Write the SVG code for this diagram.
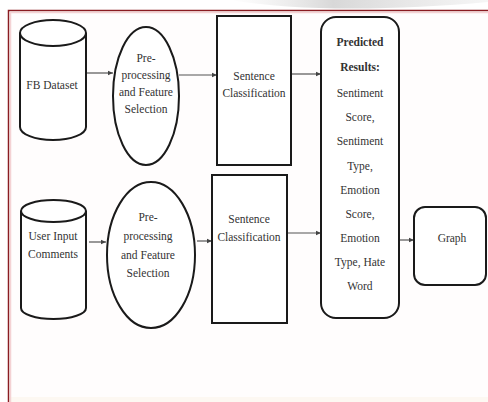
<svg xmlns="http://www.w3.org/2000/svg" width="488" height="402" viewBox="0 0 488 402">
<style>
.shape{fill:#fff;stroke:#1a1a1a;stroke-width:2}
.t{font-family:"Liberation Serif","Times New Roman",serif;font-size:11.5px;fill:#333;text-anchor:middle}
.b{font-weight:bold}
.c{stroke:#555;stroke-width:1.2;fill:none;marker-end:url(#ah)}
</style>
<defs>
<marker id="ah" markerWidth="6" markerHeight="6" refX="5" refY="3" orient="auto" markerUnits="userSpaceOnUse">
<path d="M0,0.8 L5,3 L0,5.2 Z" fill="#444"/>
</marker>
<linearGradient id="sw" x1="0" y1="0" x2="1" y2="0">
<stop offset="0" stop-color="#e6e6e6" stop-opacity="0"/>
<stop offset="0.4" stop-color="#d8d8d8"/>
<stop offset="1" stop-color="#e0e0e0" stop-opacity="0.3"/>
</linearGradient>
</defs>
<rect width="488" height="402" fill="#fff"/>
<path d="M230,0 C300,12 400,10 488,2 L488,0 Z" fill="url(#sw)"/>
<rect x="9" y="11" width="479" height="391" fill="#fffdfd"/>
<rect x="9" y="397" width="479" height="5" fill="#fdf8f2"/>
<path d="M488,10.5 H8.5 V402" fill="none" stroke="#8a1c22" stroke-width="1.5"/>
<path d="M488,12.5 H10.5 V402" fill="none" stroke="#f4d2d4" stroke-width="1.5"/>

<g id="connectors">
<line class="c" x1="87" y1="73" x2="113" y2="73"/>
<line class="c" x1="179" y1="75" x2="217" y2="75"/>
<line class="c" x1="292" y1="74" x2="321" y2="74"/>
<line class="c" x1="89" y1="242" x2="106" y2="242"/>
<line class="c" x1="197" y1="241" x2="212" y2="241"/>
<line class="c" x1="288" y1="233" x2="321" y2="233"/>
<line class="c" x1="400" y1="240" x2="414" y2="240"/>
</g>

<g id="fb-dataset">
<path class="shape" d="M20,33 L20,127 A33,13 0 0,0 86,127 L86,33"/>
<ellipse class="shape" cx="53" cy="33" rx="33" ry="13"/>
<text class="t" x="52" y="89">FB Dataset</text>
</g>

<g id="preprocess-1">
<ellipse class="shape" cx="146" cy="96" rx="33" ry="69"/>
<text class="t" x="146" y="62">Pre-</text>
<text class="t" x="146" y="79">processing</text>
<text class="t" x="146" y="96">and Feature</text>
<text class="t" x="146" y="113">Selection</text>
</g>

<g id="classify-1">
<rect class="shape" x="217" y="16" width="74" height="149"/>
<text class="t" x="254" y="80">Sentence</text>
<text class="t" x="254" y="97">Classification</text>
</g>

<g id="user-input">
<path class="shape" d="M21,211 L21,308 A32.5,11 0 0,0 86,308 L86,211"/>
<ellipse class="shape" cx="53.5" cy="211" rx="32.5" ry="11"/>
<text class="t" x="53" y="240">User Input</text>
<text class="t" x="53" y="258">Comments</text>
</g>

<g id="preprocess-2">
<ellipse class="shape" cx="151" cy="255" rx="44" ry="73"/>
<text class="t" x="148" y="221">Pre-</text>
<text class="t" x="148" y="240">processing</text>
<text class="t" x="148" y="259">and Feature</text>
<text class="t" x="148" y="277">Selection</text>
</g>

<g id="classify-2">
<rect class="shape" x="212" y="175" width="75" height="148"/>
<text class="t" x="249" y="223">Sentence</text>
<text class="t" x="249" y="241">Classification</text>
</g>

<g id="predicted">
<rect class="shape" x="321" y="17" width="78" height="301" rx="15" ry="15"/>
<text class="t b" x="360" y="46">Predicted</text>
<text class="t b" x="360" y="71">Results:</text>
<text class="t" x="360" y="97">Sentiment</text>
<text class="t" x="360" y="121">Score,</text>
<text class="t" x="360" y="145">Sentiment</text>
<text class="t" x="360" y="170">Type,</text>
<text class="t" x="360" y="194">Emotion</text>
<text class="t" x="360" y="218">Score,</text>
<text class="t" x="360" y="242">Emotion</text>
<text class="t" x="360" y="266">Type, Hate</text>
<text class="t" x="360" y="290">Word</text>
</g>

<g id="graph">
<rect class="shape" x="414" y="207" width="72" height="78" rx="11" ry="11"/>
<text class="t" x="452" y="242">Graph</text>
</g>
</svg>
